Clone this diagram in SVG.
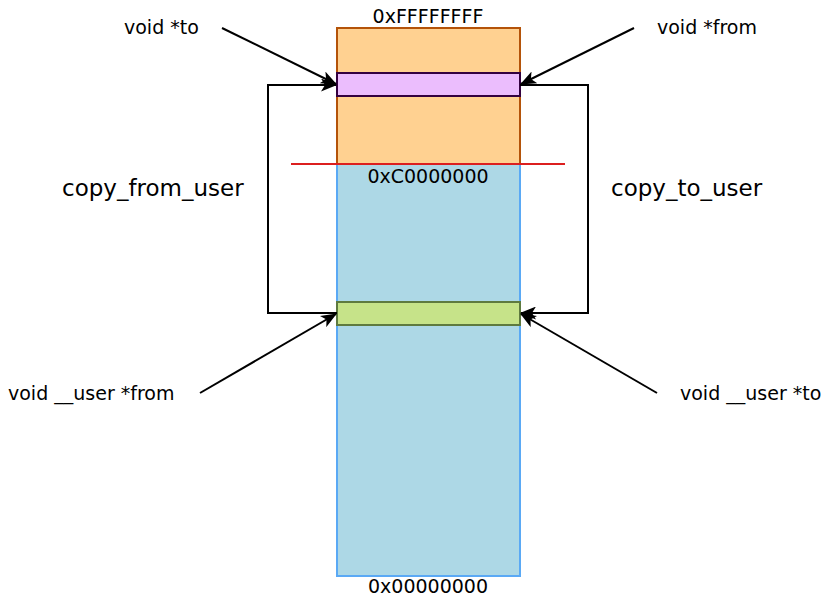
<svg xmlns="http://www.w3.org/2000/svg" width="826" height="596" viewBox="0 0 826 596">
<defs>
<style>
text{font-family:"DejaVu Sans",sans-serif;fill:#000}
.s{font-size:19px}
.l{font-size:23px}
.c{fill:none;stroke:#000;stroke-width:2}
</style>
<marker id="a" viewBox="0 0 16 13" refX="15" refY="6.5" markerWidth="16" markerHeight="13" markerUnits="userSpaceOnUse" orient="auto">
<path d="M0,0 L16,6.5 L0,13 L4,6.5 Z" fill="#000"/>
</marker>
</defs>
<rect width="826" height="596" fill="#fff"/>
<g id="kernel"><rect x="337" y="28" width="183" height="136" fill="#ffd191" stroke="#b45309" stroke-width="2"/></g>
<g id="user"><rect x="337" y="164" width="183" height="412" fill="#add8e6" stroke="#5aa9f5" stroke-width="2"/></g>
<g id="kbuf"><rect x="337" y="73" width="183" height="23" fill="#ebbdfd" stroke="#33003f" stroke-width="2"/></g>
<g id="ubuf"><rect x="337" y="302" width="183" height="23" fill="#c6e389" stroke="#5e7a3f" stroke-width="2"/></g>
<g id="boundary"><line x1="291" y1="164" x2="565" y2="164" stroke="#dc1f1f" stroke-width="2"/></g>
<g id="connectors">
<path class="c" d="M337,313 H268 V85 H336" marker-end="url(#a)"/>
<path class="c" d="M520,85 H588 V313 H521" marker-end="url(#a)"/>
<path class="c" d="M222,28 L336,84" marker-end="url(#a)"/>
<path class="c" d="M634,28 L521,84" marker-end="url(#a)"/>
<path class="c" d="M200,393 L336,314" marker-end="url(#a)"/>
<path class="c" d="M657,393 L521,314" marker-end="url(#a)"/>
</g>
<g id="labels">
<text class="s" x="428" y="23" text-anchor="middle">0xFFFFFFFF</text>
<text class="s" x="428" y="183" text-anchor="middle">0xC0000000</text>
<text class="s" x="428" y="593" text-anchor="middle">0x00000000</text>
<text class="s" x="124" y="34">void *to</text>
<text class="s" x="657" y="34">void *from</text>
<text class="s" x="8" y="400">void __user *from</text>
<text class="s" x="680" y="400">void __user *to</text>
<text class="l" x="62" y="196">copy_from_user</text>
<text class="l" x="611" y="196">copy_to_user</text>
</g>
</svg>
